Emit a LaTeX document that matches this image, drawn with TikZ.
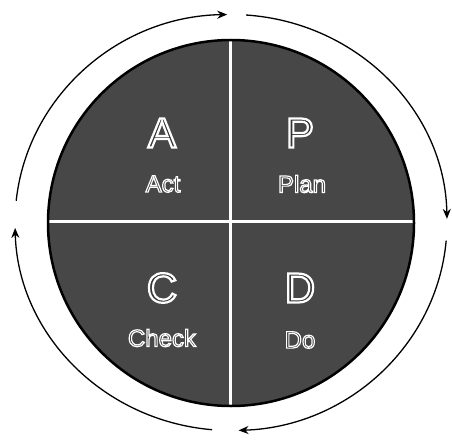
\documentclass[tikz,border=0pt]{standalone}
\usepackage{fontspec}
\setmainfont{Liberation Sans}
\usetikzlibrary{arrows.meta, positioning}
% white-edged lettering, drawn once
\newcommand{\edged}[2][2.2]{\special{pdf:literal direct 2 Tr 1 1 1 RG #1 w}#2\special{pdf:literal direct 0 Tr 0 0 0 RG 1 w}}

\begin{document}
\begin{tikzpicture}[x=1pt, y=1pt, >=Stealth,
  bigletter/.style={font=\fontsize{42}{42}\selectfont, text=black!80},
  smallword/.style={font=\fontsize{24}{24}\selectfont, text=black!80},
  cyclearc/.style={line width=1.3pt, -{Stealth[length=10pt, width=8pt]}}]
  \useasboundingbox (0,0) rectangle (452,440);

  % Shaded disc
  \fill[black!72] (231,217) circle (183);

  % Quadrant dividers
  \draw[white, line width=3pt] (230,34) -- (230,400);
  \draw[white, line width=3pt] (48,219) -- (414,219);
  \draw[line width=2.5pt] (231,217) circle (183);

  % Letters and words
  \node[bigletter] (letterA) at (162,307) {\edged{A}};
  \node[bigletter] (letterP) at (300,307) {\edged{P}};
  \node[bigletter] (letterC) at (162,152) {\edged{C}};
  \node[bigletter] (letterD) at (300,152) {\edged{D}};
  \node[smallword] (wordAct)   at (163,256) {\edged[1.2]{Act}};
  \node[smallword] (wordPlan)  at (302,256) {\edged[1.2]{Plan}};
  \node[smallword] (wordCheck) at (162,102) {\edged[1.2]{Check}};
  \node[smallword] (wordDo)    at (300,100) {\edged[1.2]{Do}};

  % Outer cycle, clockwise
  \foreach \s/\e in {86/1, -5/-88, -95/-178.5, 174/91}{
    \draw[cyclearc] ([shift={(231,217.5)}]\s:216pt and 208pt)
      arc[start angle=\s, end angle=\e, x radius=216pt, y radius=208pt];
  }
\end{tikzpicture}
\end{document}
